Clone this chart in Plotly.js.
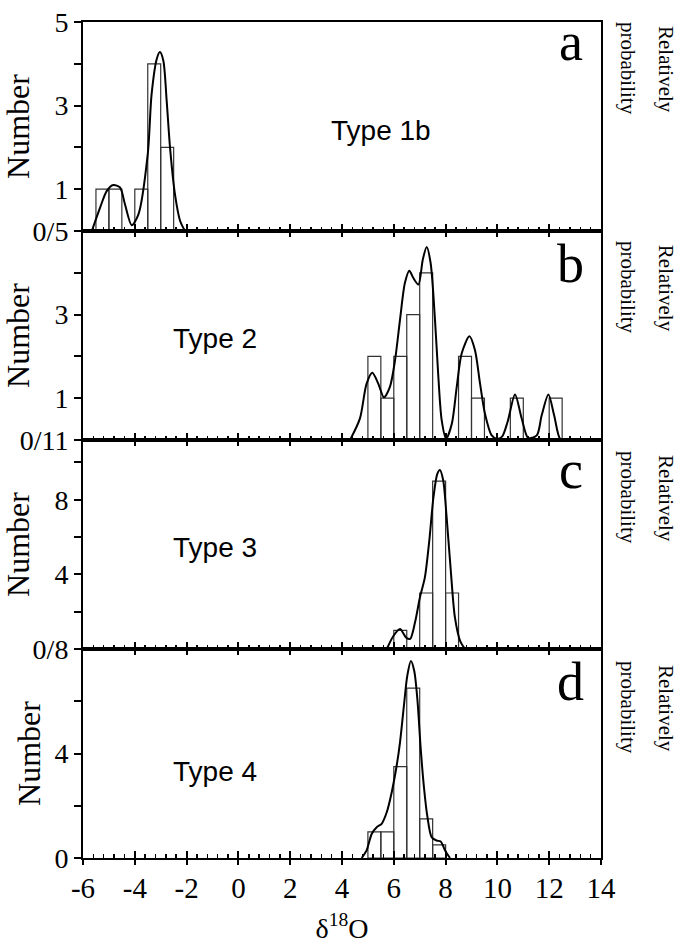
<!DOCTYPE html>
<html>
<head>
<meta charset="utf-8">
<script src="https://cdn.plot.ly/plotly-3.0.1.min.js"></script>
<style>html,body{margin:0;padding:0;background:#fff;}#chart{width:686px;height:944px;}</style>
</head>
<body>
<div id="chart"></div>
<script>
// Histogram bin centres (bin width 0.5) and counts
const binsA = [-5.25, -4.75, -3.75, -3.25, -2.75];
const countsA = [1, 1, 1, 4, 2];
const binsB = [5.25, 5.75, 6.25, 6.75, 7.25, 8.75, 9.25, 10.75, 12.25];
const countsB = [2, 1, 2, 3, 4, 2, 1, 1, 1];
const binsC = [6.25, 7.25, 7.75, 8.25];
const countsC = [1, 3, 9, 3];
const binsD = [5.25, 5.75, 6.25, 6.75, 7.25, 7.75];
const countsD = [1, 1, 3.5, 6.5, 1.5, 0.5];

// Relative probability curves
const curveAx = [-5.66, -5.34, -5.08, -4.83, -4.57, -4.38, -4.12, -3.86, -3.5, -3.35, -3.15, -3.03, -2.9, -2.77, -2.64, -2.45, -2.25, -2.06];
const curveAy = [0, 0.56, 0.96, 1.1, 1.04, 0.64, 0.14, 0.4, 1.84, 3.28, 4.12, 4.28, 4.08, 3.12, 2.0, 0.88, 0.24, 0];
const curveBx = [4.31, 4.69, 4.95, 5.17, 5.4, 5.62, 5.85, 6.05, 6.24, 6.43, 6.6, 6.75, 6.95, 7.12, 7.27, 7.42, 7.59, 7.72, 7.85, 8.02, 8.24, 8.43, 8.62, 8.92, 9.13, 9.33, 9.52, 9.78, 9.97, 10.18, 10.4, 10.68, 10.94, 11.19, 11.52, 11.71, 11.97, 12.19, 12.42, 12.6];
const curveBy = [0, 0.51, 1.35, 1.61, 1.35, 1.02, 1.27, 1.92, 2.88, 3.76, 4.05, 3.88, 3.72, 4.32, 4.62, 4.24, 2.88, 1.51, 0.47, 0.03, 0.39, 1.27, 2.07, 2.48, 2.16, 1.35, 0.63, 0.11, 0.03, 0.08, 0.45, 1.09, 0.51, 0.05, 0.11, 0.59, 1.09, 0.59, 0.03, 0];
const curveCx = [5.73, 5.99, 6.24, 6.47, 6.63, 6.82, 7.01, 7.2, 7.37, 7.53, 7.68, 7.78, 7.91, 8.04, 8.2, 8.36, 8.56, 8.75];
const curveCy = [0, 0.71, 1.07, 0.62, 0.54, 1.43, 2.77, 3.84, 5.8, 8.12, 9.38, 9.59, 9.02, 7.05, 4.2, 1.69, 0.44, 0];
const curveDx = [4.76, 4.95, 5.15, 5.34, 5.53, 5.73, 5.92, 6.11, 6.24, 6.39, 6.52, 6.66, 6.79, 6.91, 7.04, 7.17, 7.29, 7.46, 7.65, 7.81, 7.98, 8.17];
const curveDy = [0, 0.29, 0.93, 1.18, 1.31, 1.76, 2.52, 3.53, 4.43, 5.82, 6.97, 7.54, 7.16, 6.08, 4.17, 2.65, 1.63, 0.8, 0.67, 0.63, 0.29, 0];

// Axis ticks
const xTickVals = [-6, -4, -2, 0, 2, 4, 6, 8, 10, 12, 14];
const yTicksA = [0, 1, 3, 5], yTextA = ['0/5', '1', '3', '5'], yMinorA = [2, 4];
const yTicksB = [0, 1, 3], yTextB = ['0/11', '1', '3'], yMinorB = [2, 4];
const yTicksC = [0, 4, 8], yTextC = ['0/8', '4', '8'], yMinorC = [2, 6, 10];
const yTicksD = [0, 4], yTextD = ['0', '4'], yMinorD = [2, 6];
const typeLabels = ['Type 1b', 'Type 2', 'Type 3', 'Type 4'];
const panelLetters = ['a', 'b', 'c', 'd'];
const rightLine1 = 'Relatively';
const rightLine2 = 'probability';

const SERIF = 'Liberation Serif, Times New Roman, serif';
const SANS = 'Liberation Sans, Arial, sans-serif';

const panels = [
  {bins: binsA, counts: countsA, cx: curveAx, cy: curveAy},
  {bins: binsB, counts: countsB, cx: curveBx, cy: curveBy},
  {bins: binsC, counts: countsC, cx: curveCx, cy: curveCy},
  {bins: binsD, counts: countsD, cx: curveDx, cy: curveDy}
];

const traces = [];
panels.forEach((p, i) => {
  const xa = i === 0 ? 'x' : 'x' + (i + 1);
  const ya = i === 0 ? 'y' : 'y' + (i + 1);
  traces.push({type: 'bar', x: p.bins, y: p.counts, width: 0.5, xaxis: xa, yaxis: ya,
    marker: {color: 'rgba(255,255,255,0)', line: {color: '#333', width: 1.2}},
    showlegend: false, hoverinfo: 'skip'});
  traces.push({type: 'scatter', mode: 'lines', x: p.cx, y: p.cy, xaxis: xa, yaxis: ya,
    line: {color: '#000', width: 2, shape: 'spline', smoothing: 0.8},
    showlegend: false, hoverinfo: 'skip'});
});
// empty traces that register the overlay tick axes
[['x5', 'y2'], ['x6', 'y3'], ['x7', 'y4'], ['x8', 'y4']].forEach(([xa, ya]) => {
  traces.push({type: 'scatter', mode: 'lines', x: [], y: [], xaxis: xa, yaxis: ya, showlegend: false, hoverinfo: 'skip'});
});

const domains = [[0.75, 1], [0.5, 0.75], [0.25, 0.5], [0, 0.25]];
const yRanges = [[0, 5], [0, 5], [0, 11.2], [0, 8]];
const yTicks = [[yTicksA, yTextA, yMinorA], [yTicksB, yTextB, yMinorB], [yTicksC, yTextC, yMinorC], [yTicksD, yTextD, yMinorD]];

const layout = {
  width: 686, height: 944,
  margin: {l: 83, r: 85, t: 22, b: 86},
  paper_bgcolor: '#fff', plot_bgcolor: '#fff',
  font: {family: SERIF, color: '#000', size: 27},
  bargap: 0,
  annotations: [],
  showlegend: false
};

for (let i = 0; i < 4; i++) {
  const xk = i === 0 ? 'xaxis' : 'xaxis' + (i + 1);
  const yk = i === 0 ? 'yaxis' : 'yaxis' + (i + 1);
  const yname = i === 0 ? 'y' : 'y' + (i + 1);
  const xname = i === 0 ? 'x' : 'x' + (i + 1);
  layout[xk] = {
    domain: [0, 1], anchor: yname, range: [-6, 14],
    showline: true, linecolor: '#000', linewidth: 2, mirror: true,
    ticks: 'inside', tickvals: xTickVals, ticktext: xTickVals.map(v => String(v)),
    ticklen: 7, tickwidth: 2, tickcolor: '#000',
    minor: {dtick: 0.4, tick0: -6, ticks: 'inside', ticklen: 4, tickwidth: 1.5, tickcolor: '#000', showgrid: false},
    showticklabels: i === 3, showgrid: false, zeroline: false,
    tickfont: {family: SERIF, size: 29}, ticklabelstandoff: 3,
    fixedrange: true
  };
  layout[yk] = {
    domain: domains[i], anchor: xname, range: yRanges[i],
    showline: true, linecolor: '#000', linewidth: 2, mirror: true,
    ticks: 'outside', tickvals: yTicks[i][0], ticktext: yTicks[i][1],
    ticklen: 7, tickwidth: 2, tickcolor: '#000',
    minor: {tickvals: yTicks[i][2], ticks: 'outside', ticklen: 7, tickwidth: 2, tickcolor: '#000', showgrid: false},
    showgrid: false, zeroline: false,
    tickfont: {family: SERIF, size: 28},
    title: {text: 'Number', font: {family: SERIF, size: 32}, standoff: 4},
    fixedrange: true
  };
}
layout.xaxis4.title = {text: 'δ<sup>18</sup>O', font: {family: SERIF, size: 28}, standoff: 28};

// overlay axes carrying the part of the major x ticks that crosses the boundary line
[['xaxis5', 'x2', 'y2', 'top', 'inside'], ['xaxis6', 'x3', 'y3', 'top', 'inside'], ['xaxis7', 'x4', 'y4', 'top', 'inside'], ['xaxis8', 'x4', 'y4', 'bottom', 'outside']].forEach(([k, ov, an, side, tk]) => {
  layout[k] = {overlaying: ov, anchor: an, side: side, range: [-6, 14],
    showline: false, ticks: tk, tickvals: xTickVals, ticklen: 6, tickwidth: 2, tickcolor: '#000',
    showticklabels: false, showgrid: false, zeroline: false, fixedrange: true};
});

// type labels (data coords of each panel)
const typePos = [[5.5, 2.4], [-0.9, 2.42], [-0.9, 5.43], [-0.9, 3.33]];
typeLabels.forEach((t, i) => {
  layout.annotations.push({text: t, xref: i === 0 ? 'x' : 'x' + (i + 1), yref: i === 0 ? 'y' : 'y' + (i + 1),
    x: typePos[i][0], y: typePos[i][1], showarrow: false, xanchor: 'center', yanchor: 'middle',
    font: {family: SANS, size: 28, color: '#000'}});
});
// panel letters
const letterY = [0.976, 0.711, 0.464, 0.21];
panelLetters.forEach((t, i) => {
  layout.annotations.push({text: t, xref: 'paper', yref: 'paper', x: 0.942, y: letterY[i],
    showarrow: false, xanchor: 'center', yanchor: 'middle', font: {family: SERIF, size: 54, color: '#000'}});
});
// right side labels, two rotated lines per panel
const rightY = [0.9438, 0.682, 0.4306, 0.1794];
rightY.forEach(y => {
  layout.annotations.push({text: rightLine1, xref: 'paper', yref: 'paper', x: 1.1255, y: y,
    textangle: 90, showarrow: false, xanchor: 'center', yanchor: 'middle',
    font: {family: SERIF, size: 21, color: '#000'}});
  layout.annotations.push({text: rightLine2, xref: 'paper', yref: 'paper', x: 1.052, y: y,
    textangle: 90, showarrow: false, xanchor: 'center', yanchor: 'middle',
    font: {family: SERIF, size: 21, color: '#000'}});
});

Plotly.newPlot('chart', traces, layout, {staticPlot: true, displayModeBar: false});
</script>
</body>
</html>
